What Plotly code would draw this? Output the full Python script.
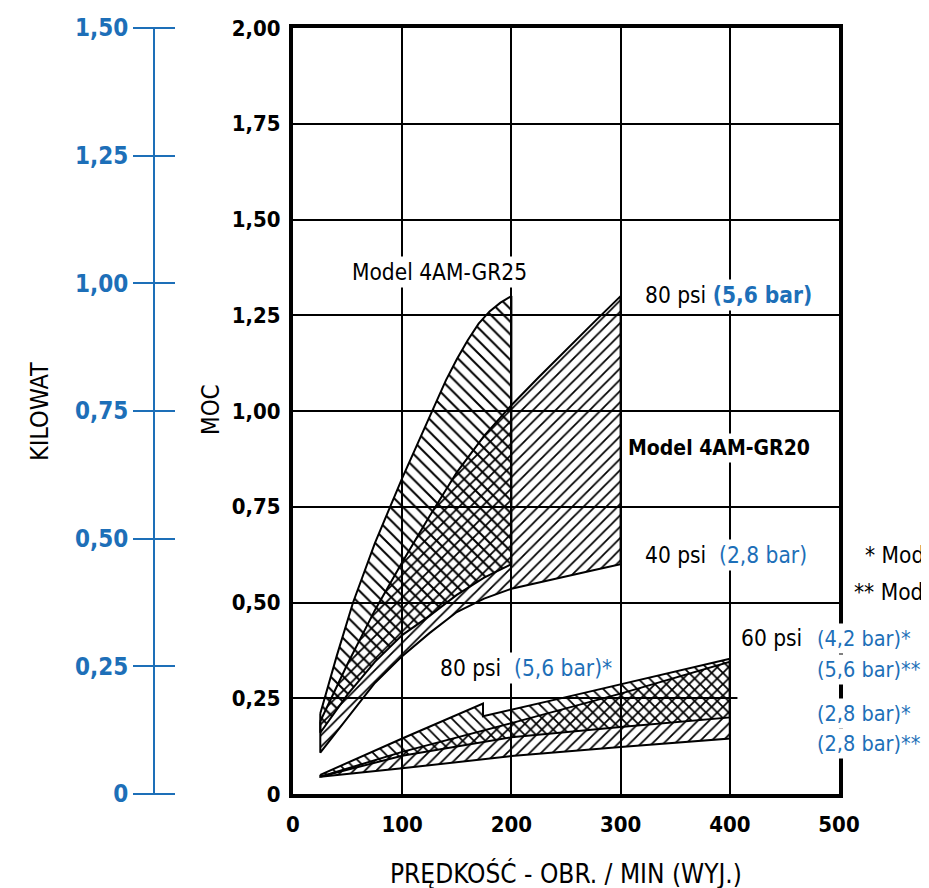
import plotly.graph_objects as go

# ---------------- data ----------------
rpm_gr25_upper = [25, 40, 55, 75, 100, 125, 140, 150, 160, 170, 180, 190, 200]
hp_gr25_upper = [0.21, 0.36, 0.50, 0.655, 0.825, 0.985, 1.08, 1.135, 1.185, 1.228, 1.26, 1.283, 1.30]
rpm_gr25_lower = [25, 50, 75, 100, 125, 150, 175, 200]
hp_gr25_lower = [0.16, 0.26, 0.345, 0.415, 0.465, 0.52, 0.565, 0.60]

rpm_gr20 = [25, 50, 75, 100, 125, 150, 175, 200, 225, 250, 275, 300]
hp_gr20_80psi = [0.19, 0.34, 0.48, 0.605, 0.725, 0.84, 0.935, 1.015, 1.088, 1.16, 1.23, 1.30]
hp_gr20_40psi = [0.108, 0.20, 0.29, 0.36, 0.42, 0.475, 0.51, 0.536, 0.552, 0.568, 0.584, 0.60]

rpm_m1_top = [25, 100, 174, 174, 250, 300, 400]
hp_m1_top = [0.05, 0.145, 0.236, 0.203, 0.253, 0.286, 0.353]
rpm_m1_bottom = [25, 100, 200, 300, 400]
hp_m1_bottom = [0.045, 0.10, 0.148, 0.175, 0.20]

rpm_m2 = [25, 100, 200, 300, 400]
hp_m2_top = [0.045, 0.11, 0.185, 0.262, 0.345]
hp_m2_bottom = [0.045, 0.067, 0.099, 0.123, 0.145]

x_ticks = [0, 100, 200, 300, 400, 500]
x_ticktext = ["0", "100", "200", "300", "400", "500"]
hp_ticks = [0, 0.25, 0.5, 0.75, 1.0, 1.25, 1.5, 1.75, 2.0]
hp_ticktext = ["0", "0,25", "0,50", "0,75", "1,00", "1,25", "1,50", "1,75", "2,00"]
kw_ticks = [0, 0.25, 0.5, 0.75, 1.0, 1.25, 1.5]
kw_ticktext = ["0", "0,25", "0,50", "0,75", "1,00", "1,25", "1,50"]

# ---------------- styling / layout ----------------
FONT = "DejaVu Sans Condensed, Liberation Sans Narrow, sans-serif"
BLUE = "#1d6fb8"
W, H = 921, 880            # page has an 8 px body margin
ML, MR, MT, MB = 10, 90, 20, 94
plot_w = W - ML - MR
plot_h = H - MT - MB
x_dom0 = (285 - ML) / plot_w


def px(xf):
    return (xf - ML) / plot_w


def py(yf):
    return (H - MB - yf) / plot_h


def polygon(xu, yu, xl, yl):
    xs = list(xu) + list(reversed(xl)) + [xu[0]]
    ys = list(yu) + list(reversed(yl)) + [yu[0]]
    return xs, ys


def hatched(xs, ys, shape, size, name):
    return go.Scatter(
        x=xs, y=ys, mode="lines", fill="toself", name=name,
        line=dict(color="black", width=2),
        fillcolor="rgba(0,0,0,0)",
        fillpattern=dict(shape=shape, size=size, solidity=0.22,
                         fgcolor="black", fgopacity=1, bgcolor="rgba(0,0,0,0)"),
        hoverinfo="skip", showlegend=False,
    )


fig = go.Figure()

xs, ys = polygon(rpm_gr25_upper, hp_gr25_upper, rpm_gr25_lower, hp_gr25_lower)
fig.add_trace(hatched(xs, ys, "\\", 9, "4AM-GR25"))
xs, ys = polygon(rpm_gr20, hp_gr20_80psi, rpm_gr20, hp_gr20_40psi)
fig.add_trace(hatched(xs, ys, "/", 8, "4AM-GR20"))
xs, ys = polygon(rpm_m1_top, hp_m1_top, rpm_m1_bottom, hp_m1_bottom)
fig.add_trace(hatched(xs, ys, "\\", 8, "*"))
xs, ys = polygon(rpm_m2, hp_m2_top, rpm_m2, hp_m2_bottom)
fig.add_trace(hatched(xs, ys, "/", 8, "**"))

# invisible trace to activate the kilowatt axis
fig.add_trace(go.Scatter(x=[0], y=[0], yaxis="y2", mode="markers",
                         marker=dict(opacity=0), showlegend=False, hoverinfo="skip"))

fig.update_layout(
    width=W, height=H,
    margin=dict(l=ML, r=MR, t=MT, b=MB, autoexpand=False),
    paper_bgcolor="white", plot_bgcolor="white",
    font=dict(family=FONT, color="black"),
    xaxis=dict(
        domain=[x_dom0, 1], range=[0, 500],
        tickvals=x_ticks, ticktext=x_ticktext,
        tickfont=dict(size=22, family=FONT, weight="bold"),
        ticklabelstandoff=8,
        showgrid=True, gridcolor="black", gridwidth=2,
        showline=True, linecolor="black", linewidth=4, mirror=True,
        ticks="", zeroline=False,
    ),
    yaxis=dict(
        range=[0, 2.0],
        tickvals=hp_ticks, ticktext=hp_ticktext,
        tickfont=dict(size=22, family=FONT, weight="bold"),
        ticklabelstandoff=4,
        showgrid=True, gridcolor="black", gridwidth=2,
        showline=True, linecolor="black", linewidth=4, mirror=True,
        ticks="", zeroline=False,
    ),
    yaxis2=dict(
        overlaying="y", anchor="free", side="left",
        position=px(167),
        range=[0, 1.5],
        tickvals=kw_ticks, ticktext=kw_ticktext,
        tickfont=dict(size=24, family=FONT, color=BLUE, weight="bold"),
        ticks="outside", ticklen=42, tickwidth=2, tickcolor=BLUE,
        showline=False, showgrid=False, zeroline=False,
    ),
)

# kilowatt axis line
fig.add_shape(type="line", xref="paper", yref="paper",
              x0=px(146), x1=px(146), y0=0, y1=1,
              line=dict(color=BLUE, width=2))
# shorten the 0.25 grid line and open the frame behind the right labels
fig.add_shape(type="line", xref="x", yref="y", x0=407, x1=500, y0=0.25, y1=0.25,
              line=dict(color="white", width=4), layer="between")
fig.add_shape(type="rect", xref="x", yref="y", x0=490, x1=512, y0=0.07, y1=0.495,
              line=dict(width=0), fillcolor="white", layer="above")

AS = 22.5
anns = [
    dict(x=134.6, y=1.363, text="Model 4AM-GR25", xanchor="center", bg=True),
    dict(x=319.6, y=1.303, text=f"80 psi <b><span style='color:{BLUE}'>(5,6 bar)</span></b>", xanchor="left", bg=True),
    dict(x=304, y=0.903, text="<b>Model 4AM-GR20</b>", xanchor="left", bg=True, size=21),
    dict(x=319.6, y=0.624, text=f"40 psi\u00a0\u00a0<span style='color:{BLUE}'>(2,8 bar)</span>", xanchor="left", bg=True),
    dict(x=407.5, y=0.407, text="60 psi", xanchor="left", bg=True),
    dict(x=477, y=0.407, text=f"<span style='color:{BLUE}'>(4,2 bar)*</span>", xanchor="left", bg=True, size=21.5),
    dict(x=477, y=0.324, text=f"<span style='color:{BLUE}'>(5,6 bar)**</span>", xanchor="left", bg=True, size=21.5),
    dict(x=477, y=0.211, text=f"<span style='color:{BLUE}'>(2,8 bar)*</span>", xanchor="left", bg=True, size=21.5),
    dict(x=477, y=0.133, text=f"<span style='color:{BLUE}'>(2,8 bar)**</span>", xanchor="left", bg=True, size=21.5),
    dict(x=131.9, y=0.329, text=f"80 psi\u00a0\u00a0<span style='color:{BLUE}'>(5,6 bar)*</span>", xanchor="left", bg=True),
]
for a in anns:
    fig.add_annotation(x=a["x"], y=a["y"], xref="x", yref="y", text=a["text"],
                       xanchor=a["xanchor"], yanchor="middle", showarrow=False,
                       font=dict(size=a.get("size", AS), family=FONT, color="black"),
                       bgcolor="white" if a["bg"] else "rgba(0,0,0,0)", borderpad=2)

# footnotes (cut by the page edge, as in the reference)
fig.add_annotation(x=px(855), y=py(547), xref="paper", yref="paper", text="* Model 1AM-NCC",
                   xanchor="left", yanchor="middle", showarrow=False,
                   font=dict(size=AS, family=FONT, color="black"))
fig.add_annotation(x=px(844), y=py(584), xref="paper", yref="paper", text="** Model 2AM-NCC",
                   xanchor="left", yanchor="middle", showarrow=False,
                   font=dict(size=AS, family=FONT, color="black"))

# axis titles
fig.add_annotation(x=px(558), y=py(865), xref="paper", yref="paper",
                   text="PRĘDKOŚĆ - OBR. / MIN (WYJ.)", showarrow=False,
                   xanchor="center", yanchor="middle",
                   font=dict(size=26, family=FONT, color="black"))
fig.add_annotation(x=px(31), y=py(404), xref="paper", yref="paper",
                   text="KILOWAT", textangle=-90, showarrow=False,
                   xanchor="center", yanchor="middle",
                   font=dict(size=25, family=FONT, color="black"))
fig.add_annotation(x=px(203), y=py(402), xref="paper", yref="paper",
                   text="MOC", textangle=-90, showarrow=False,
                   xanchor="center", yanchor="middle",
                   font=dict(size=24, family=FONT, color="black"))

fig.write_html("out.html")
